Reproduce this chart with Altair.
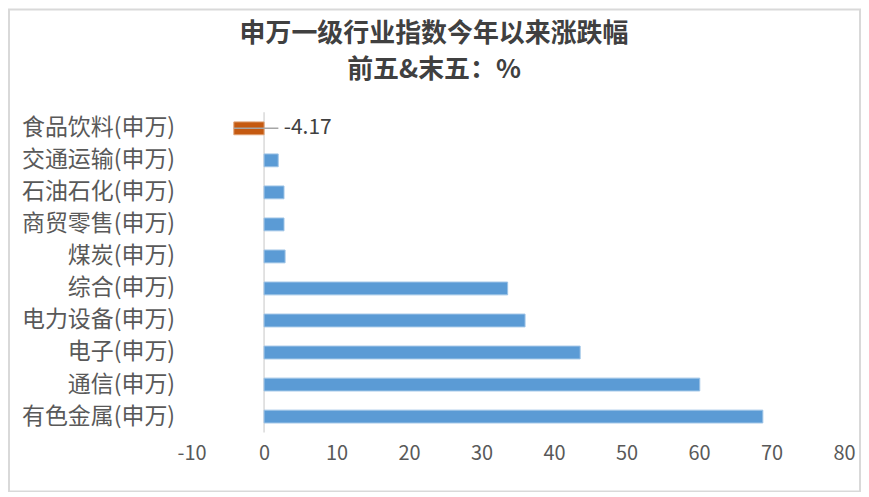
import altair as alt
import pandas as pd

categories = ["食品饮料(申万)", "交通运输(申万)", "石油石化(申万)", "商贸零售(申万)", "煤炭(申万)",
              "综合(申万)", "电力设备(申万)", "电子(申万)", "通信(申万)", "有色金属(申万)"]
values = [-4.17, 1.95, 2.75, 2.75, 2.9, 33.6, 36.0, 43.6, 60.1, 68.8]
x_ticks = [-10, 0, 10, 20, 30, 40, 50, 60, 70, 80]
title_lines = ["申万一级行业指数今年以来涨跌幅", "前五&末五：%"]

df = pd.DataFrame({"cat": categories, "val": values})
df["lab"] = df["val"].map(lambda v: f"{v:.2f}")

FONT = "Noto Sans CJK SC"
XS = alt.Scale(domain=[-10, 80], nice=False, zero=False)

x_enc = alt.X("val:Q", scale=XS,
              axis=alt.Axis(values=x_ticks, title=None, grid=False, domain=False, ticks=False,
                            labelFontSize=20, labelColor="#595959", labelPadding=11,
                            labelFont=FONT, labelFlush=False, labelExpr="datum.value + ''"))
y_enc = alt.Y("cat:N", sort=categories,
              scale=alt.Scale(paddingInner=0.6, paddingOuter=0.3),
              axis=alt.Axis(title=None, domain=False, ticks=False, labelFontSize=23,
                            labelColor="#595959", labelPadding=17, labelFont=FONT, labelLimit=300))

bars = alt.Chart(df).mark_bar(strokeWidth=1).encode(
    x=x_enc, y=y_enc,
    color=alt.condition("datum.val < 0", alt.value("#C55A11"), alt.value("#5B9BD5")),
    stroke=alt.condition("datum.val < 0", alt.value("#E0A070"), alt.value("#9DC3E6")),
)

zero = alt.Chart(pd.DataFrame({"z": [0]})).mark_rule(color="#D9D9D9", strokeWidth=1.5).encode(
    x=alt.X("z:Q", scale=XS)
)

neg = df[df["val"] < 0]
leader = alt.Chart(neg).mark_rule(color="#A6A6A6", strokeWidth=1.5).encode(
    x=alt.X("val:Q"), x2=alt.value(87), y=alt.Y("cat:N", sort=categories, bandPosition=0.5)
)
label = alt.Chart(neg).mark_text(align="left", baseline="middle", dx=50, fontSize=21,
                                 color="#404040", font=FONT).encode(
    x=alt.X("val:Q"), y=alt.Y("cat:N", sort=categories, bandPosition=0.5), text="lab:N"
)

t1 = alt.Chart(pd.DataFrame({"t": [title_lines[0]]})).mark_text(
    fontSize=26, fontWeight="bold", color="#404040", font=FONT, baseline="middle", align="center"
).encode(x=alt.value(243), y=alt.value(-78), text="t:N")
t2 = alt.Chart(pd.DataFrame({"t": [title_lines[1]]})).mark_text(
    fontSize=26, fontWeight="bold", color="#404040", font=FONT, baseline="middle", align="center"
).encode(x=alt.value(243), y=alt.value(-42), text="t:N")

frame = alt.Chart(pd.DataFrame({"a": [0]})).mark_rect(fill=None, stroke="#D9D9D9", strokeWidth=2).encode(
    x=alt.value(-183), x2=alt.value(670), y=alt.value(-103), y2=alt.value(380)
)

chart = alt.layer(frame, zero, bars, leader, label, t1, t2).properties(
    width=654, height=321,
    padding={"left": 184, "top": 104, "right": 17, "bottom": 59},
    autosize=alt.AutoSizeParams(type="none"),
    background="white",
).configure_view(strokeWidth=0, stroke="transparent")

chart.save("out.html", embed_options={"renderer": "svg", "actions": False})
